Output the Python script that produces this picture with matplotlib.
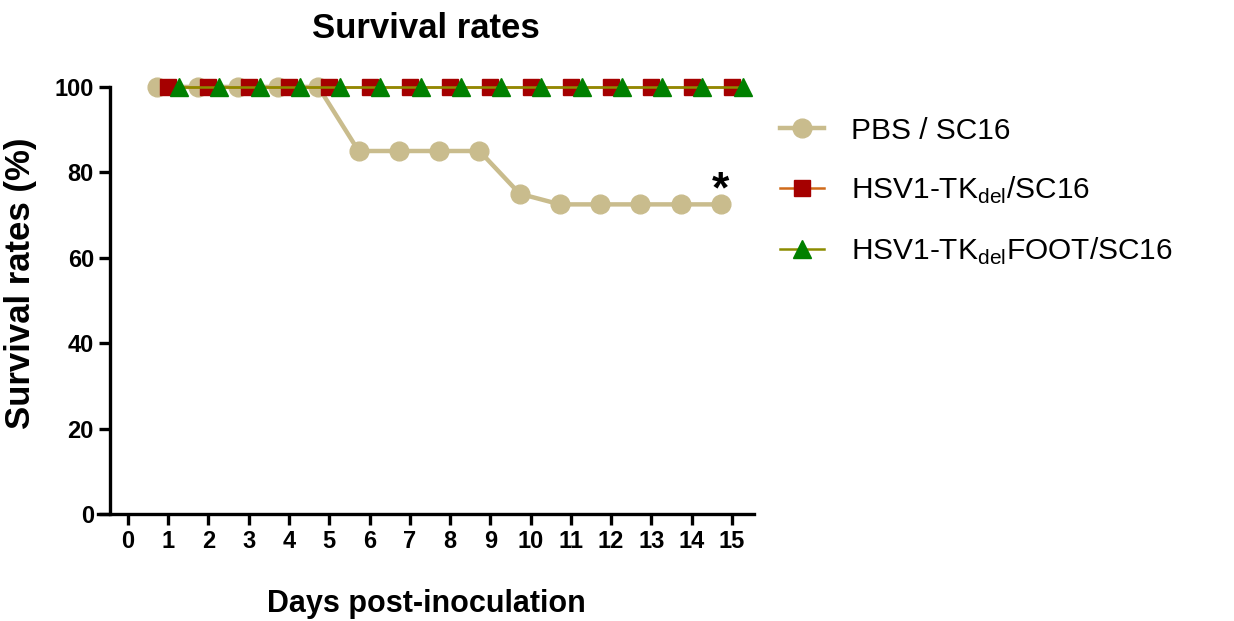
import numpy as np
import matplotlib.pyplot as plt

plt.rcParams['font.family'] = ['Liberation Sans', 'DejaVu Sans']
plt.rcParams['mathtext.fontset'] = 'custom'
plt.rcParams['mathtext.rm'] = 'Liberation Sans'

# survival data (percent alive per day)
days = np.arange(1, 16)
pbs = [100, 100, 100, 100, 100, 85, 85, 85, 85, 75, 72.5, 72.5, 72.5, 72.5, 72.5]
tk_del = [100] * 15
tk_del_foot = [100] * 15

labels = ['PBS / SC16',
          r'HSV1-TK$_{\mathrm{del}}$/SC16',
          r'HSV1-TK$_{\mathrm{del}}$FOOT/SC16']

fig = plt.figure(figsize=(12.34, 6.21), dpi=100)
ax = fig.add_axes([0.0794, 0.1723, 0.5316, 0.6877])

# small horizontal shift so the groups don't sit on top of each other
shift = 0.27
ax.plot(days - shift, pbs, color='#C9BC8D', lw=3.2, marker='o', ms=13.5,
        mec='#C9BC8D', mfc='#C9BC8D', clip_on=False, zorder=3, label=labels[0])
ax.plot(days, tk_del, color='#D06A1A', lw=1.8, marker='s', ms=12,
        mec='#A50000', mfc='#A50000', clip_on=False, zorder=4, label=labels[1])
ax.plot(days + shift, tk_del_foot, color='#8C8C00', lw=1.8, marker='^', ms=13,
        mec='#008000', mfc='#008000', clip_on=False, zorder=5, label=labels[2])

# significance mark on the PBS group
ax.text(days[-1] - shift, pbs[-1] + 3.2, '*', fontsize=32, fontweight='bold',
        ha='center', va='center')

ax.set_xlim(-0.745, 15.55)
ax.set_ylim(0, 100)
ax.set_xticks(range(0, 16))
ax.set_yticks(range(0, 101, 20))

for s in ['top', 'right']:
    ax.spines[s].set_visible(False)
ax.spines['left'].set_position(('data', -0.45))
ax.spines['left'].set_linewidth(2.4)
ax.spines['bottom'].set_linewidth(2.4)
ax.tick_params(axis='both', direction='out', length=8, width=2.4,
               labelsize=17)
for t in ax.get_xticklabels() + ax.get_yticklabels():
    t.set_fontweight('bold')

ax.set_xlabel('Days post-inoculation', fontsize=22, fontweight='bold',
              labelpad=26)
ax.set_ylabel('Survival rates (%)', fontsize=25, fontweight='bold')
ax.yaxis.set_label_coords(-0.093, 0.54)
ax.set_title('Survival rates', fontsize=25, fontweight='bold', pad=35)

fig.legend(loc='upper left', bbox_to_anchor=(0.61, 0.855), frameon=False,
           fontsize=21.5, handlelength=1.5, labelspacing=1.0, handletextpad=0.9)

fig.savefig('out.png', dpi=100)
